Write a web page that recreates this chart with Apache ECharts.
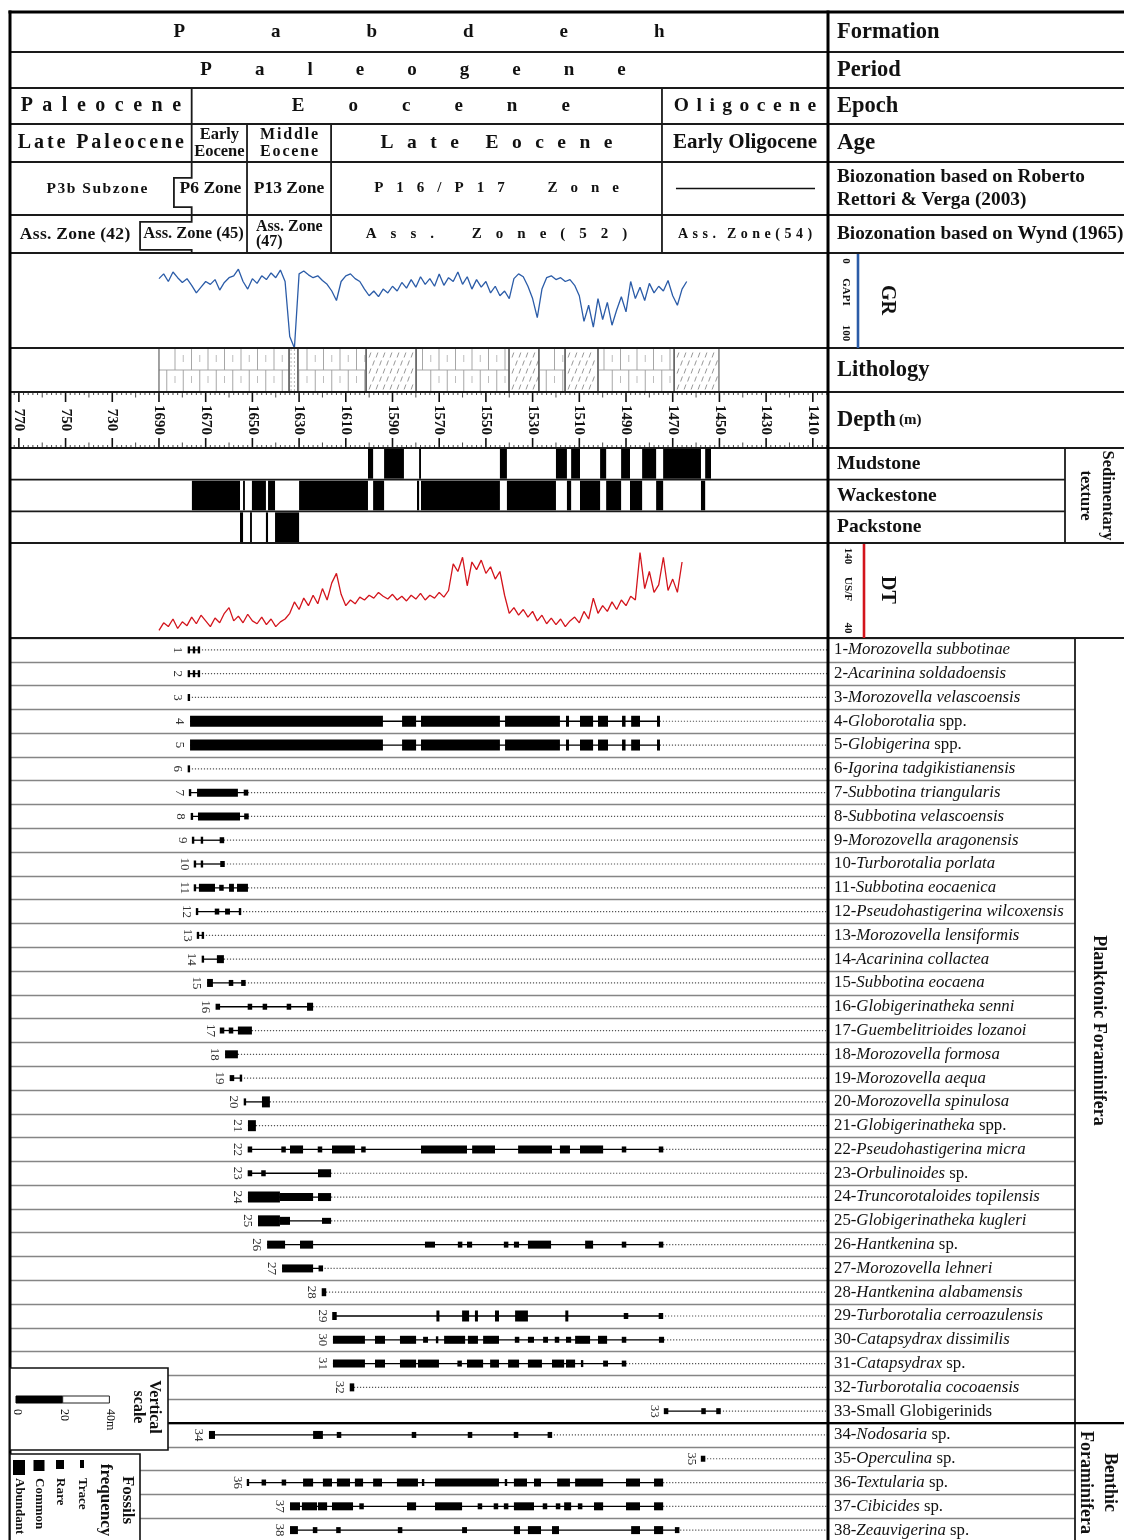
<!DOCTYPE html>
<html><head><meta charset="utf-8"><title>Pabdeh Formation range chart</title>
<script src="https://cdn.jsdelivr.net/npm/echarts@6.0.0/dist/echarts.min.js"></script>
<style>html,body{margin:0;padding:0;background:#fff;}#chart{width:1124px;height:1540px;}</style>
</head><body><div id="chart"></div>
<script>
// ================= DATA =================
const depthTicks = [1750,1730,1710,1690,1670,1650,1630,1610,1590,1570,1550,1530,1510,1490,1470,1450,1430,1410];
const depthTickLabels = ['770','750','730','1690','1670','1650','1630','1610','1590','1570','1550','1530','1510','1490','1470','1450','1430','1410'];

const formationZones = [[1753.8,1403.5,'Pabdeh']];
const periodZones = [[1753.8,1403.5,'Paleogene']];
const epochZones = [[1753.8,1676.0,'Paleocene'],[1676.0,1474.6,'Eocene'],[1474.6,1403.5,'Oligocene']];
const ageZones = [[1753.8,1676.0,'Late Paleocene'],[1676.0,1652.3,'Early\nEocene'],[1652.3,1616.3,'Middle\nEocene'],[1616.3,1474.6,'Late Eocene'],[1474.6,1403.5,'Early Oligocene']];
const rettoriZones = [[1753.8,1683.6,'P3b Subzone'],[1683.6,1652.3,'P6 Zone'],[1652.3,1616.3,'P13 Zone'],[1616.3,1474.6,'P16/P17 Zone'],[1474.6,1403.5,'—']];
const wyndZones = [[1753.8,1698.1,'Ass. Zone (42)'],[1698.1,1652.3,'Ass. Zone (45)'],[1652.3,1616.3,'Ass. Zone\n(47)'],[1616.3,1474.6,'Ass. Zone(52)'],[1474.6,1403.5,'Ass. Zone(54)']];
// stepped zone boundaries [depth, relative height 1=top 0=bottom]
const zoneBoundaries = {
  'P6 Zone': [[1676.0,1],[1676.0,0.7],[1683.6,0.7],[1683.6,0.15],[1676.0,0.15],[1676.0,0]],
  'Ass. Zone (45)': [[1676.0,1],[1676.0,0.82],[1698.1,0.82],[1698.1,0.08],[1676.0,0.08],[1676.0,0]]
};

// GR log (GAPI), sampled every 2 m from 1690 m upward
const grStartDepth = 1690, grStepM = 2;
const grValues = [27,22,30,20,26,31,27,34,42,36, 30,33,28,39,31,26,24,17,30,38,
  27,32,24,28,21,26,18,30,88,100, 22,19,23,26,24,29,33,40,50,30,
  24,22,27,30,38,45,40,46,38,42, 35,40,31,37,28,36,25,33,27,35,
  22,34,26,30,20,33,25,38,28,36, 30,42,35,45,40,48,27,22,25,35,
  48,68,38,26,24,28,26,30,28,34, 45,72,55,78,48,70,52,76,60,46,
  62,30,48,36,50,32,42,35,40,29, 45,55,38,30];
// DT log (us/ft), sampled every 2 m from 1690 m upward
const dtStartDepth = 1690, dtStepM = 2;
const dtValues = [48,56,52,60,50,57,53,62,55,64, 58,52,61,56,66,72,58,63,56,65,
  58,55,62,54,60,52,57,60,66,78, 70,82,74,85,76,92,80,98,108,86,
  74,80,76,83,80,85,82,88,84,81, 86,80,84,79,85,81,87,80,85,82,
  88,83,90,118,110,125,95,120,112,122, 108,115,102,110,85,66,72,64,70,62,
  68,58,64,55,61,54,60,52,58,62, 56,68,60,82,66,74,68,78,70,80,
  74,84,80,130,92,110,88,96,125,90, 102,88,120];

// Lithology intervals: [from depth, to depth, type] L=limestone M=marly/shaly D=dotted
const lithology = [[1690,1634.3,'L'],[1634.3,1630.5,'D'],[1630.5,1601.3,'L'],[1601.3,1579.9,'M'],[1579.9,1540.1,'L'],
  [1540.1,1527.3,'M'],[1527.3,1516.1,'L'],[1516.1,1502.0,'M'],[1502.0,1469.4,'L'],[1469.4,1450.2,'M']];

// Sedimentary texture intervals
const textureRows = ['Mudstone','Wackestone','Packstone'];
const textureIntervals = [[1675.9,1655.3,'W'],[1655.3,1654.0,'P'],[1654.0,1653.2,'W'],[1651.0,1650.2,'P'],[1650.2,1644.2,'W'],
  [1644.2,1643.3,'P'],[1643.3,1640.3,'W'],[1640.3,1630.0,'P'],[1630.0,1600.5,'W'],[1600.5,1598.3,'M'],[1598.3,1593.6,'W'],
  [1593.6,1585.1,'M'],[1579.5,1578.6,'W'],[1578.6,1577.8,'M'],[1577.8,1544.0,'W'],[1544.0,1541.0,'M'],[1541.0,1520.0,'W'],
  [1520.0,1515.3,'M'],[1515.3,1513.5,'W'],[1513.5,1509.7,'M'],[1509.7,1501.1,'W'],[1501.1,1498.5,'M'],[1498.5,1492.1,'W'],
  [1492.1,1488.3,'M'],[1488.3,1483.1,'W'],[1483.1,1477.1,'M'],[1477.1,1474.1,'W'],[1474.1,1457.9,'M'],[1457.9,1456.1,'W'],[1456.1,1453.6,'M']];

// Species: [italic part, roman part]
const speciesNames = [
 ['Morozovella subbotinae',''],['Acarinina soldadoensis',''],['Morozovella velascoensis',''],['Globorotalia',' spp.'],
 ['Globigerina',' spp.'],['Igorina tadgikistianensis',''],['Subbotina triangularis',''],['Subbotina velascoensis',''],
 ['Morozovella aragonensis',''],['Turborotalia porlata',''],['Subbotina eocaenica',''],['Pseudohastigerina wilcoxensis',''],
 ['Morozovella lensiformis',''],['Acarinina collactea',''],['Subbotina eocaena',''],['Globigerinatheka senni',''],
 ['Guembelitrioides lozanoi',''],['Morozovella formosa',''],['Morozovella aequa',''],['Morozovella spinulosa',''],
 ['Globigerinatheka',' spp.'],['Pseudohastigerina micra',''],['Orbulinoides',' sp.'],['Truncorotaloides topilensis',''],
 ['Globigerinatheka kugleri',''],['Hantkenina',' sp.'],['Morozovella lehneri',''],['Hantkenina alabamensis',''],
 ['Turborotalia cerroazulensis',''],['Catapsydrax dissimilis',''],['Catapsydrax',' sp.'],['Turborotalia cocoaensis',''],
 ['','Small Globigerinids'],['Nodosaria',' sp.'],['Operculina',' sp.'],['Textularia',' sp.'],['Cibicides',' sp.'],['Zeauvigerina',' sp.']
];
const planktonicCount = 33;
// occurrences: [from depth, to depth, frequency 1=trace 2=rare 3=common 4=abundant]
const speciesRanges = [
 [[1677.2,1677.2,1],[1675.0,1675.0,1],[1672.9,1672.9,1]],
 [[1677.2,1677.2,1],[1675.0,1675.0,1],[1672.9,1672.9,1]],
 [[1677.2,1677.2,1]],
 [[1676.7,1594.1,4],[1585.9,1579.9,4],[1577.8,1544.0,4],[1541.8,1518.3,4],[1515.7,1514.4,4],[1509.7,1504.1,4],[1502.0,1497.7,4],[1491.7,1490.2,4],[1487.8,1484.0,4],[1476.7,1475.5,4]],
 [[1676.7,1594.1,4],[1585.9,1579.9,4],[1577.8,1544.0,4],[1541.8,1518.3,4],[1515.7,1514.4,4],[1509.7,1504.1,4],[1502.0,1497.7,4],[1491.7,1490.2,4],[1487.8,1484.0,4],[1476.7,1475.5,4]],
 [[1677.2,1677.2,1]],
 [[1676.7,1676.7,1],[1673.7,1656.2,3],[1653.6,1651.9,2]],
 [[1675.9,1675.9,1],[1673.3,1655.3,3],[1653.2,1651.9,2]],
 [[1675.4,1675.4,1],[1671.6,1671.6,1],[1663.9,1662.2,2]],
 [[1674.6,1674.6,1],[1671.6,1671.6,1],[1663.4,1662.2,2]],
 [[1674.6,1674.6,1],[1672.9,1666.0,3],[1663.9,1662.6,2],[1660.0,1657.9,3],[1656.6,1651.9,3]],
 [[1673.7,1673.7,1],[1666.0,1664.3,2],[1661.7,1659.6,2],[1655.3,1655.3,1]],
 [[1673.3,1673.3,1],[1671.2,1671.2,1]],
 [[1671.2,1671.2,1],[1665.2,1662.2,3]],
 [[1669.4,1666.9,3],[1659.6,1658.7,2],[1654.5,1653.2,2]],
 [[1665.2,1664.4,2],[1651.5,1650.6,2],[1645.0,1644.3,2],[1634.7,1634.0,2],[1626.6,1624.0,3]],
 [[1663.4,1662.6,2],[1659.6,1658.7,2],[1656.2,1650.2,3]],
 [[1661.7,1656.2,3]],
 [[1659.2,1658.3,2],[1654.9,1654.9,1]],
 [[1653.2,1653.2,1],[1645.9,1642.5,4]],
 [[1651.9,1648.5,4]],
 [[1651.9,1650.2,2],[1637.3,1636.0,2],[1633.9,1628.3,3],[1621.9,1620.2,2],[1615.9,1606.1,3],[1603.1,1601.8,2],[1577.8,1558.1,3],[1555.9,1546.1,3],[1536.2,1521.7,3],[1518.3,1514.0,3],[1509.7,1499.8,3],[1491.7,1490.0,2],[1475.9,1474.1,2]],
 [[1651.9,1650.2,2],[1645.9,1644.6,2],[1621.9,1616.3,3]],
 [[1651.9,1638.2,4],[1638.2,1624.0,3],[1621.9,1616.3,3]],
 [[1647.6,1638.2,4],[1638.2,1633.9,3],[1620.2,1616.3,2]],
 [[1643.7,1636.0,3],[1629.6,1624.0,3],[1576.1,1571.8,2],[1561.9,1560.2,2],[1558.1,1555.9,2],[1542.2,1540.5,2],[1538.0,1535.8,2],[1532.0,1522.1,3],[1507.5,1504.1,3],[1491.7,1490.0,2],[1475.9,1474.1,2]],
 [[1637.3,1624.0,3],[1621.0,1620.4,2]],
 [[1620.2,1618.5,3]],
 [[1615.5,1614.2,3],[1570.9,1570.2,4],[1560.2,1557.2,4],[1554.4,1553.7,4],[1546.1,1544.4,4],[1537.5,1532.0,4],[1515.7,1515.0,4],[1490.4,1489.6,2],[1475.5,1474.6,2]],
 [[1615.5,1601.8,3],[1597.5,1593.2,3],[1586.8,1579.9,3],[1576.9,1574.8,2],[1570.9,1570.9,1],[1567.9,1558.9,3],[1557.7,1553.4,3],[1551.2,1544.4,3],[1537.5,1535.8,2],[1532.0,1529.4,2],[1525.5,1523.4,2],[1520.4,1518.7,2],[1515.7,1513.5,2],[1511.8,1505.4,3],[1502.0,1498.1,3],[1491.7,1490.0,2],[1475.9,1473.7,2]],
 [[1615.5,1601.8,3],[1597.5,1593.2,3],[1586.8,1579.9,3],[1579.1,1570.1,3],[1561.9,1560.6,2],[1558.1,1551.2,3],[1548.2,1544.4,3],[1540.5,1535.8,3],[1532.0,1526.0,3],[1521.7,1516.5,3],[1515.7,1511.8,3],[1508.8,1508.8,1],[1499.8,1497.7,2],[1491.7,1490.0,2]],
 [[1608.2,1606.5,3]],
 [[1473.3,1472.4,2],[1457.4,1456.2,2],[1451.0,1449.8,2]],
 [[1668.6,1666.0,3],[1624.0,1619.8,3],[1613.3,1612.5,2],[1581.2,1580.4,2],[1557.2,1556.4,2],[1537.5,1536.7,2],[1523.0,1522.2,2]],
 [[1457.4,1456.6,2]],
 [[1651.9,1651.9,1],[1645.5,1644.7,2],[1636.9,1636.1,2],[1628.3,1624.0,3],[1619.8,1615.9,3],[1613.8,1608.2,3],[1606.1,1602.6,3],[1598.3,1594.5,3],[1588.1,1579.1,3],[1576.9,1576.9,1],[1571.8,1544.4,3],[1541.4,1541.4,1],[1538.0,1532.4,3],[1529.4,1526.4,3],[1519.5,1514.0,3],[1511.8,1499.8,3],[1490.0,1484.0,3],[1478.0,1474.1,3]],
 [[1633.9,1629.6,3],[1628.8,1622.3,3],[1621.9,1618.0,3],[1615.9,1606.9,3],[1603.9,1602.6,2],[1583.8,1579.9,3],[1571.8,1560.2,3],[1553.4,1551.7,2],[1546.1,1545.3,2],[1542.2,1540.5,2],[1538.0,1529.4,3],[1525.1,1524.3,2],[1519.5,1518.7,2],[1516.5,1513.5,3],[1510.5,1508.8,2],[1503.7,1499.8,3],[1490.0,1484.0,3],[1478.0,1474.1,3]],
 [[1633.9,1630.5,3],[1624.0,1622.3,2],[1613.8,1612.5,2],[1587.6,1585.9,2],[1560.2,1558.1,2],[1538.0,1535.4,3],[1532.0,1526.4,3],[1521.7,1518.7,3],[1487.8,1484.0,3],[1478.0,1474.1,3],[1468.1,1468.1,2]]
];
const freqLevels = ['Trace','Rare','Common','Abundant'];

// ================= LAYOUT / STYLE =================
const SERIF = '"Liberation Serif","Times New Roman",serif';
const LEFT = 10, DIV = 828, RIGHT = 1124, COL2 = 1075, TEXCOL = 1065;
const D_MIN = 1403.5, D_MAX = 1753.8;
const bands = [[12,40],[52,36],[88,36],[124,38],[162,53],[215,38],[253,95],[348,44],[392,56],[448,95],[543,95],[638,904]];
const ROW_H = bands[11][1] / speciesNames.length;
const PXM = (DIV - LEFT) / (D_MAX - D_MIN);
const FREQ_H = {1:7, 2:6, 3:8, 4:11};
const FREQ_MINW = {1:2.4, 2:4.5, 3:4.5, 4:3};

const zoneTextStyle = {
 'Pabdeh': {size:19, track:86},
 'Paleogene': {size:19, track:43, dx:-6},
 'Paleocene': {size:20, track:9.5},
 'Eocene': {size:19, track:44, dx:4},
 'Oligocene': {size:19.5, track:7.5},
 'Late Paleocene': {size:20, track:2.9},
 'Early\nEocene': {size:16.5, lh:17},
 'Middle\nEocene': {size:16, track:1.8, lh:17},
 'Late Eocene': {size:19.5, track:13.5, sp:8},
 'Early Oligocene': {size:21},
 'P3b Subzone': {size:15.5, track:1.5, dx:5},
 'P6 Zone': {size:17.5},
 'P13 Zone': {size:17.5},
 'P16/P17 Zone': {size:15, track:13, sp:26},
 'Ass. Zone (42)': {size:17.5, track:0.3},
 'Ass. Zone (45)': {size:16.5},
 'Ass. Zone\n(47)': {size:16, align:'left', dx:9, lh:15},
 'Ass. Zone(52)': {size:15, track:14, sp:20},
 'Ass. Zone(54)': {size:14, track:4.5, sp:3}
};

const mctx = document.createElement('canvas').getContext('2d');
function textStyle(text, st) {
  const size = st.size || 16, weight = 'bold';
  const base = {fontFamily: SERIF, fontSize: size, fontWeight: weight, fill: '#111'};
  const align = st.align || 'center';
  const lh = st.lh || Math.round(size * 1.15);
  if (!st.track) return Object.assign({text: text, align: align, verticalAlign: 'middle', lineHeight: lh}, base);
  mctx.font = weight + ' ' + size + 'px ' + SERIF;
  const rich = {};
  const out = text.split('\n').map(function (line) {
    return Array.from(line).map(function (ch) {
      const w = mctx.measureText(ch).width + (ch === ' ' ? (st.sp != null ? st.sp : st.track) : st.track);
      const key = 't' + Math.round(w * 100);
      rich[key] = Object.assign({width: w, align: 'center', lineHeight: lh}, base);
      return '{' + key + '|' + ch + '}';
    }).join('');
  }).join('\n');
  return Object.assign({text: out, rich: rich, align: align, verticalAlign: 'middle', lineHeight: lh}, base);
}
function ln(x1, y1, x2, y2, style) { return {type: 'line', shape: {x1: x1, y1: y1, x2: x2, y2: y2}, style: style}; }

// ================= GRIDS / AXES =================
const grids = bands.map(function (b) { return {left: LEFT, top: b[0], width: DIV - LEFT, height: b[1], containLabel: false, outerBoundsMode: 'none'}; });
grids.push({left: DIV, top: bands[11][0], width: COL2 - DIV, height: bands[11][1], containLabel: false, outerBoundsMode: 'none'});

const xAxes = [], yAxes = [];
for (let g = 0; g < 12; g++) xAxes.push({type: 'value', gridIndex: g, min: D_MIN, max: D_MAX, inverse: true, show: false});
xAxes.push({type: 'value', gridIndex: 12, min: 0, max: 1, show: false});
for (let g = 0; g < 6; g++) yAxes.push({type: 'value', gridIndex: g, min: 0, max: 1, show: false});
yAxes.push({type: 'value', gridIndex: 6, min: 0, max: 100, inverse: true, show: false});
yAxes.push({type: 'value', gridIndex: 7, min: 0, max: 1, show: false});
yAxes.push({type: 'value', gridIndex: 8, min: 0, max: 1, show: false});
yAxes.push({type: 'category', gridIndex: 9, data: textureRows, inverse: true, show: false});
yAxes.push({type: 'value', gridIndex: 10, min: 40, max: 140, show: false});
const catNames = speciesNames.map(function (n, i) { return (i + 1) + '-' + n[0] + n[1]; });
const rowSplit = {show: true, interval: 0, lineStyle: {color: '#858585', width: 1.3}};
yAxes.push({type: 'category', gridIndex: 11, data: catNames, inverse: true, axisLine: {show: false}, axisTick: {show: false}, axisLabel: {show: false}, splitLine: rowSplit});
yAxes.push({type: 'category', gridIndex: 12, data: catNames, inverse: true, axisLine: {show: false}, axisTick: {show: false}, splitLine: rowSplit,
  axisLabel: {inside: true, margin: 6, interval: 0,
    formatter: function (v, idx) { const n = speciesNames[idx]; return '{n|' + (idx + 1) + '-}' + (n[0] ? '{i|' + n[0] + '}' : '') + (n[1] ? '{n|' + n[1] + '}' : ''); },
    rich: {n: {fontFamily: SERIF, fontSize: 16.8, color: '#111'}, i: {fontFamily: SERIF, fontSize: 16.8, fontStyle: 'italic', color: '#111'}}}});

// ================= SERIES =================
const series = [];
function zoneSeries(gi, zones) {
  return {type: 'custom', xAxisIndex: gi, yAxisIndex: gi, silent: true, z: 10,
    data: zones.map(function (z) { return [(z[0] + z[1]) / 2, 0.5]; }),
    renderItem: function (params, api) {
      const z = zones[params.dataIndex];
      const st = zoneTextStyle[z[2]] || {};
      const a = api.coord([z[0], 1]), b = api.coord([z[1], 0]);
      const ch = [];
      if (z[0] < D_MAX - 0.01) {
        const bd = zoneBoundaries[z[2]];
        if (bd) ch.push({type: 'polyline', shape: {points: bd.map(function (p) { return api.coord(p); })}, style: {stroke: '#1a1a1a', lineWidth: 1.8, fill: null}});
        else ch.push(ln(a[0], a[1], a[0], b[1], {stroke: '#1a1a1a', lineWidth: 1.8}));
      }
      const cy = (a[1] + b[1]) / 2 + (st.dy || 0);
      if (z[2] === '—') {
        ch.push(ln(a[0] + 14, cy, b[0] - 13, cy, {stroke: '#111', lineWidth: 1.6}));
      } else {
        const x = st.align === 'left' ? a[0] + (st.dx || 8) : (a[0] + b[0]) / 2 + (st.dx || 0);
        ch.push({type: 'text', x: x, y: cy, style: textStyle(z[2], st)});
      }
      return {type: 'group', children: ch};
    }};
}
[formationZones, periodZones, epochZones, ageZones, rettoriZones, wyndZones].forEach(function (zs, gi) { series.push(zoneSeries(gi, zs)); });

// GR log
series.push({type: 'line', xAxisIndex: 6, yAxisIndex: 6, silent: true, symbol: 'none', z: 5,
  data: grValues.map(function (v, i) { return [grStartDepth - i * grStepM, v]; }),
  lineStyle: {color: '#2b5ca8', width: 1.3}});
// DT log
series.push({type: 'line', xAxisIndex: 10, yAxisIndex: 10, silent: true, symbol: 'none', z: 5,
  data: dtValues.map(function (v, i) { return [dtStartDepth - i * dtStepM, v]; }),
  lineStyle: {color: '#d3141c', width: 1.3}});

// Lithology
series.push({type: 'custom', xAxisIndex: 7, yAxisIndex: 7, silent: true, z: 5,
  data: lithology.map(function (it) { return [(it[0] + it[1]) / 2, 0.5]; }),
  renderItem: function (params, api) {
    const it = lithology[params.dataIndex];
    const cs = params.coordSys;
    const xa = api.coord([it[0], 0.5])[0], xb = api.coord([it[1], 0.5])[0];
    const top = cs.y + 1, bot = cs.y + cs.height - 1, mid = (top + bot) / 2;
    const pat = {stroke: '#9d9d9d', lineWidth: 0.9};
    const pat2 = {stroke: '#b5b5b5', lineWidth: 0.9};
    const ch = [];
    if (it[2] === 'L') {
      const P = 16.5;
      ch.push(ln(xa, mid, xb, mid, pat));
      for (let x = cs.x + Math.ceil((xa - cs.x) / P) * P; x < xb; x += P) {
        ch.push(ln(x, top, x, mid, pat));
        if (x + P / 2 < xb) ch.push(ln(x + P / 2, top + 6, x + P / 2, top + 13, pat2));
      }
      for (let x = cs.x + P / 2 + Math.ceil((xa - cs.x - P / 2) / P) * P; x < xb; x += P) {
        ch.push(ln(x, mid, x, bot, pat));
        if (x + P / 2 < xb) ch.push(ln(x + P / 2, mid + 6, x + P / 2, mid + 13, pat2));
      }
    } else if (it[2] === 'M') {
      let r = 0;
      for (let y = top + 6; y < bot - 2; y += 8, r++) {
        for (let x = xa + 3 + (r % 2) * 3.5; x < xb - 2; x += 7) ch.push(ln(x, y + 2.5, x + 1.8, y - 2.5, {stroke: '#8c8c8c', lineWidth: 0.9}));
      }
    } else {
      for (let x = xa + 2; x < xb - 0.5; x += 3.3) ch.push(ln(x, top, x, bot, {stroke: '#a8a8a8', lineWidth: 0.8, lineDash: [2, 2]}));
    }
    ch.push(ln(xa, top - 1, xa, bot + 1, {stroke: '#555', lineWidth: 1.1}));
    ch.push(ln(xb, top - 1, xb, bot + 1, {stroke: '#555', lineWidth: 1.1}));
    return {type: 'group', children: ch};
  }});

// Depth ruler: minor ticks
const minorTicks = [];
for (let d = 1404; d <= 1752; d += 2) if (depthTicks.indexOf(d) < 0) minorTicks.push(d);
series.push({type: 'custom', xAxisIndex: 8, yAxisIndex: 8, silent: true, z: 5,
  data: minorTicks.map(function (d) { return [d, 0.5]; }),
  renderItem: function (params, api) {
    const d = minorTicks[params.dataIndex];
    const x = api.coord([d, 0.5])[0], cs = params.coordSys;
    const len = d % 10 === 0 ? 5.5 : 3;
    const s = {stroke: '#333', lineWidth: 0.9};
    return {type: 'group', children: [ln(x, cs.y, x, cs.y + len, s), ln(x, cs.y + cs.height - len, x, cs.y + cs.height, s)]};
  }});
// Depth ruler: major ticks + labels
series.push({type: 'custom', xAxisIndex: 8, yAxisIndex: 8, silent: true, z: 6,
  data: depthTicks.map(function (d) { return [d, 0.5]; }),
  renderItem: function (params, api) {
    const k = params.dataIndex;
    const p = api.coord([depthTicks[k], 0.5]), cs = params.coordSys;
    const s = {stroke: '#111', lineWidth: 1.6};
    return {type: 'group', children: [
      ln(p[0], cs.y, p[0], cs.y + 10, s), ln(p[0], cs.y + cs.height - 10, p[0], cs.y + cs.height, s),
      {type: 'text', x: p[0], y: p[1], rotation: -Math.PI / 2,
       style: {text: depthTickLabels[k], fontFamily: SERIF, fontSize: 15, fontWeight: 'bold', fill: '#111', align: 'center', verticalAlign: 'middle'}}
    ]};
  }});

// Sedimentary texture
series.push({type: 'custom', xAxisIndex: 9, yAxisIndex: 9, silent: true, z: 5,
  data: textureIntervals.map(function (t) { return [(t[0] + t[1]) / 2, 'MWP'.indexOf(t[2])]; }),
  renderItem: function (params, api) {
    const t = textureIntervals[params.dataIndex];
    const row = 'MWP'.indexOf(t[2]);
    const a = api.coord([t[0], row]), b = api.coord([t[1], row]);
    const bh = api.size([0, 1])[1];
    return {type: 'rect', shape: {x: a[0], y: a[1] - bh / 2 + 1, width: b[0] - a[0], height: bh - 2}, style: {fill: '#000'}};
  }});

// Species range chart
series.push({type: 'custom', xAxisIndex: 11, yAxisIndex: 11, silent: true, z: 5,
  data: speciesRanges.map(function (r, i) { return [r[0][0], i]; }),
  renderItem: function (params, api) {
    const i = params.dataIndex;
    const segs = speciesRanges[i];
    const cs = params.coordSys;
    const yc = api.coord([D_MIN, i])[1];
    const right = cs.x + cs.width;
    const xf = api.coord([segs[0][0], i])[0];
    const xl = api.coord([segs[segs.length - 1][1], i])[0];
    const ch = [];
    ch.push(ln(xl, yc, right, yc, {stroke: '#555', lineWidth: 1.2, lineDash: [1.2, 1.8]}));
    if (xl - xf > 0.5) ch.push(ln(xf, yc, xl, yc, {stroke: '#000', lineWidth: 1.3}));
    segs.forEach(function (s) {
      const x0 = api.coord([s[0], i])[0], x1 = api.coord([s[1], i])[0];
      const h = FREQ_H[s[2]], mw = FREQ_MINW[s[2]];
      let xs = x0, w = x1 - x0;
      if (w < mw) { xs = (x0 + x1) / 2 - mw / 2; w = mw; }
      ch.push({type: 'rect', shape: {x: xs, y: yc - h / 2, width: w, height: h}, style: {fill: '#000'}});
    });
    ch.push({type: 'text', x: xf - 11, y: yc, rotation: -Math.PI / 2,
      style: {text: String(i + 1), fontFamily: SERIF, fontSize: 13, fill: '#333', align: 'center', verticalAlign: 'middle'}});
    return {type: 'group', children: ch};
  }});

// ================= FRAME, RIGHT-HAND LABELS, LEGENDS (graphic) =================
const G = [];
function gl(x1, y1, x2, y2, w, c, z) { return {type: 'line', silent: true, z: z || 50, shape: {x1: x1, y1: y1, x2: x2, y2: y2}, style: {stroke: c || '#1a1a1a', lineWidth: w}}; }
function gt(x, y, text, size, opt) {
  opt = opt || {};
  return {type: 'text', silent: true, z: opt.z || 60, x: x, y: y, rotation: opt.rot || 0,
    style: Object.assign({text: text, fontFamily: SERIF, fontSize: size, fontWeight: opt.weight || 'bold', fill: '#111',
      align: opt.align || 'left', verticalAlign: 'middle', lineHeight: opt.lh || Math.round(size * 1.2)}, opt.style || {})};
}
const bc = function (k) { return bands[k][0] + bands[k][1] / 2; };
for (let k = 1; k < bands.length; k++) G.push(gl(LEFT, bands[k][0], RIGHT, bands[k][0], 2));
G.push(gl(LEFT - 1.5, 12, RIGHT, 12, 3, '#000'));
const tb = bands[9];
G.push(gl(LEFT, tb[0] + tb[1] / 3, TEXCOL, tb[0] + tb[1] / 3, 1.8));
G.push(gl(LEFT, tb[0] + 2 * tb[1] / 3, TEXCOL, tb[0] + 2 * tb[1] / 3, 1.8));
G.push(gl(TEXCOL, tb[0], TEXCOL, tb[0] + tb[1], 1.8));
G.push(gl(LEFT, 10.5, LEFT, 1540, 3, '#000'));
G.push(gl(DIV, 10.5, DIV, 1540, 3, '#000'));
const sb = bands[11];
G.push(gl(COL2, sb[0], COL2, 1540, 1.8));
const yPB = sb[0] + planktonicCount * ROW_H;
G.push(gl(168, yPB, RIGHT, yPB, 2.2, '#000', 55));

// right-hand labels
const TX = 837;
G.push(gt(TX, bc(0), 'Formation', 22.5));
G.push(gt(TX, bc(1), 'Period', 22.5));
G.push(gt(TX, bc(2), 'Epoch', 22.5));
G.push(gt(TX, bc(3), 'Age', 23));
G.push(gt(TX, bc(4), 'Biozonation based on Roberto\nRettori & Verga (2003)', 19.3, {lh: 23}));
G.push(gt(TX, bc(5), 'Biozonation based on Wynd (1965)', 19.3));
G.push(gt(TX, bc(7), 'Lithology', 22.5));
G.push({type: 'text', silent: true, z: 60, x: TX, y: bc(8), style: {text: '{a|Depth} {b|(m)}', verticalAlign: 'middle', align: 'left',
  rich: {a: {fontFamily: SERIF, fontSize: 22.5, fontWeight: 'bold', fill: '#111'}, b: {fontFamily: SERIF, fontSize: 15, fontWeight: 'bold', fill: '#111'}}}});
textureRows.forEach(function (t, j) { G.push(gt(TX, tb[0] + (j + 0.5) * tb[1] / 3, t, 19.5)); });
G.push(gt(1096, bc(9), 'Sedimentary\ntexture', 16.5, {rot: -Math.PI / 2, align: 'center', lh: 22}));
// GR scale
const gb = bands[6];
G.push(gt(846, gb[0] + 8, '0', 11, {rot: -Math.PI / 2, align: 'center'}));
G.push(gt(846, gb[0] + 39, 'GAPI', 11, {rot: -Math.PI / 2, align: 'center'}));
G.push(gt(846, gb[0] + 80, '100', 11, {rot: -Math.PI / 2, align: 'center'}));
G.push(gl(858, gb[0] + 1, 858, gb[0] + gb[1], 2.6, '#2b5ca8'));
G.push(gt(887, gb[0] + 47, 'GR', 20, {rot: -Math.PI / 2, align: 'center'}));
// DT scale
const db = bands[10];
G.push(gt(848, db[0] + 13, '140', 11, {rot: -Math.PI / 2, align: 'center'}));
G.push(gt(848, db[0] + 46, 'US/F', 11, {rot: -Math.PI / 2, align: 'center'}));
G.push(gt(848, db[0] + 85, '40', 11, {rot: -Math.PI / 2, align: 'center'}));
G.push(gl(864, db[0] + 1, 864, db[0] + db[1], 2.6, '#d3141c'));
G.push(gt(887, db[0] + 47, 'DT', 20, {rot: -Math.PI / 2, align: 'center'}));
// group labels
G.push(gt(1099, sb[0] + planktonicCount * ROW_H / 2, 'Planktonic Foraminifera', 18, {rot: -Math.PI / 2, align: 'center'}));
G.push(gt(1098, yPB + (speciesNames.length - planktonicCount) * ROW_H / 2, 'Benthic\nForaminifera', 18, {rot: -Math.PI / 2, align: 'center', lh: 24}));

// Vertical scale legend
G.push({type: 'rect', z: 100, silent: true, shape: {x: LEFT, y: 1368, width: 158, height: 82}, style: {fill: '#fff', stroke: '#111', lineWidth: 1.6}});
G.push({type: 'rect', z: 101, silent: true, shape: {x: 16, y: 1396, width: 20 * PXM, height: 7}, style: {fill: '#000', stroke: '#000', lineWidth: 1}});
G.push({type: 'rect', z: 101, silent: true, shape: {x: 16 + 20 * PXM, y: 1396, width: 20 * PXM, height: 7}, style: {fill: '#fff', stroke: '#222', lineWidth: 1}});
[['0', 0], ['20', 20], ['40m', 40]].forEach(function (s) { G.push(gt(16 + s[1] * PXM + 1, 1409, s[0], 12, {rot: -Math.PI / 2, weight: 'normal', z: 102})); });
G.push(gt(146, 1407, 'Vertical\nscale', 16, {rot: -Math.PI / 2, align: 'center', lh: 16, z: 102}));
// Fossils frequency legend
G.push({type: 'rect', z: 100, silent: true, shape: {x: LEFT, y: 1454, width: 130, height: 92}, style: {fill: '#fff', stroke: '#111', lineWidth: 1.6}});
G.push(gt(116, 1500, 'Fossils\nfrequency', 17, {rot: -Math.PI / 2, align: 'center', lh: 22, z: 102}));
const legSym = [[82, 4, 8], [60, 8, 9], [39, 11, 11], [19, 12, 15]];
freqLevels.forEach(function (name, k) {
  const s = legSym[k];
  G.push({type: 'rect', z: 102, silent: true, shape: {x: s[0] - s[1] / 2, y: 1460, width: s[1], height: s[2]}, style: {fill: '#000'}});
  G.push(gt(s[0], 1478, name, 13, {rot: -Math.PI / 2, z: 102}));
});

const chart = echarts.init(document.getElementById('chart'), null, {renderer: 'canvas', width: 1124, height: 1540});
chart.setOption({animation: false, backgroundColor: '#fff', grid: grids, xAxis: xAxes, yAxis: yAxes, series: series, graphic: {elements: G}});
</script></body></html>
